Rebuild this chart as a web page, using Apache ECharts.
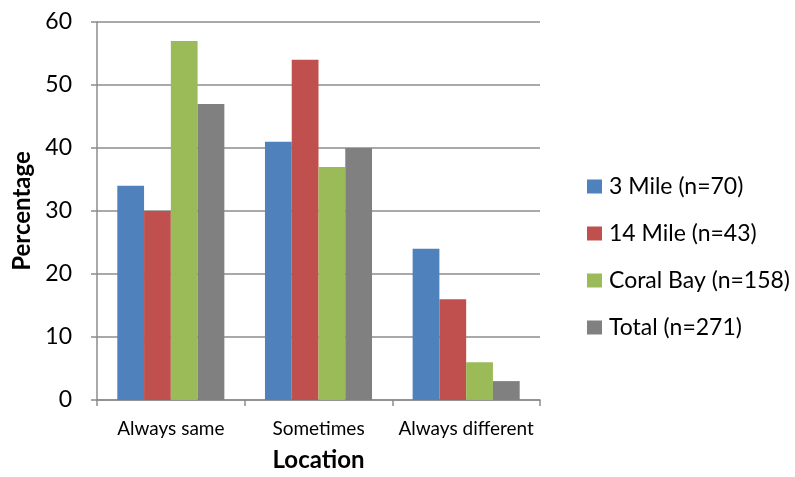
<!DOCTYPE html>
<html>
<head>
<meta charset="utf-8">
<script src="https://cdn.jsdelivr.net/npm/echarts@6/dist/echarts.min.js"></script>
<style>
  html, body { margin: 0; padding: 0; background: #fff; }
  #chart { width: 795px; height: 477px; }
</style>
</head>
<body>
<div id="chart"></div>
<script>
// Response categories on the x axis
const categories = ['Always same', 'Sometimes', 'Always different'];

// Percentage per location
const seriesNames = ['3 Mile (n=70)', '14 Mile (n=43)', 'Coral Bay (n=158)', 'Total (n=271)'];
const threeMile = [34, 41, 24];
const fourteenMile = [30, 54, 16];
const coralBay = [57, 37, 6];
const total = [47, 40, 3];

const yTicks = [0, 10, 20, 30, 40, 50, 60];

const colors = ['#4f81bd', '#c0504d', '#9bbb59', '#808080'];
const values = [threeMile, fourteenMile, coralBay, total];
const fontFamily = 'Lato, "Open Sans", sans-serif';

const chart = echarts.init(document.getElementById('chart'), null, { renderer: 'canvas' });

chart.setOption({
  animation: false,
  textStyle: { fontFamily },
  color: colors,
  grid: { left: 97, right: 255, top: 22, bottom: 75, containLabel: false },
  legend: {
    orient: 'vertical',
    left: 582,
    top: 170,
    itemWidth: 15,
    itemHeight: 14,
    itemGap: 24,
    icon: 'rect',
    textStyle: { fontSize: 23, color: '#000', fontFamily, padding: [0, 0, 0, 2] },
    data: seriesNames
  },
  xAxis: {
    type: 'category',
    data: categories,
    name: 'Location',
    nameLocation: 'middle',
    nameGap: 48,
    nameTextStyle: { fontSize: 24, fontWeight: 'bold', color: '#000', fontFamily },
    axisLine: { lineStyle: { color: '#8c8c8c', width: 1.5 } },
    axisTick: { show: true, alignWithLabel: false, length: 6, lineStyle: { color: '#8c8c8c', width: 1.5 } },
    axisLabel: { fontSize: 19, color: '#000', margin: 19, interval: 0, hideOverlap: false },
    splitLine: { show: false }
  },
  yAxis: {
    type: 'value',
    min: yTicks[0],
    max: yTicks[yTicks.length - 1],
    interval: 10,
    name: 'Percentage',
    nameLocation: 'middle',
    nameGap: 62,
    nameTextStyle: { fontSize: 24, fontWeight: 'bold', color: '#000', fontFamily },
    axisLine: { show: true, lineStyle: { color: '#8c8c8c', width: 1.5 } },
    axisTick: { show: true, length: 6, lineStyle: { color: '#8c8c8c', width: 1.5 } },
    axisLabel: { fontSize: 23, color: '#000', margin: 25 },
    splitLine: { show: true, lineStyle: { color: '#8c8c8c', width: 1.5 } }
  },
  series: seriesNames.map((name, i) => ({
    name,
    type: 'bar',
    data: values[i],
    barGap: '0%',
    barCategoryGap: '27.5%',
    itemStyle: { color: colors[i] }
  }))
});
</script>
</body>
</html>
